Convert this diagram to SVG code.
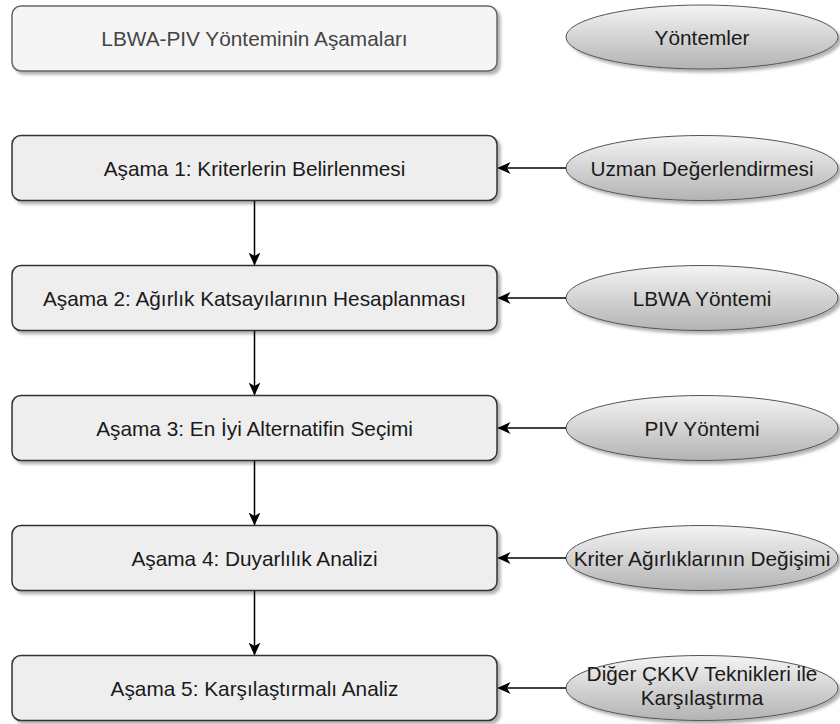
<svg xmlns="http://www.w3.org/2000/svg" width="840" height="724" viewBox="0 0 840 724">
<defs>
<linearGradient id="eg" x1="0" y1="0" x2="0" y2="1">
<stop offset="0" stop-color="#f4f4f4"/>
<stop offset="1" stop-color="#b3b3b3"/>
</linearGradient>
<filter id="sh" x="-10%" y="-20%" width="120%" height="150%">
<feDropShadow dx="3" dy="3" stdDeviation="1.5" flood-color="#000" flood-opacity="0.3"/>
</filter>
<marker id="ah" markerWidth="13" markerHeight="12" viewBox="0 0 13 12" refX="12" refY="6" orient="auto" markerUnits="userSpaceOnUse">
<path d="M0,0 L13,6 L0,12 L3.5,6 Z" fill="#000"/>
</marker>
</defs>
<style>
.box{fill:#eeeeee;stroke:#333;stroke-width:1.5;filter:url(#sh)}
.hbox{fill:#f5f5f5;stroke:#666;stroke-width:1.5;filter:url(#sh)}
.ell{fill:url(#eg);stroke:#555;stroke-width:1;filter:url(#sh)}
text{font-family:"Liberation Sans",Arial,sans-serif;font-size:20.8px;text-anchor:middle;fill:#1a1a1a}
.ht{fill:#444}
.con{stroke:#000;stroke-width:1.5;fill:none;marker-end:url(#ah)}
</style>
<g id="header">
<rect class="hbox" x="12" y="6" width="485" height="65" rx="9"/>
<text class="ht" x="254.5" y="46">LBWA-PIV Yönteminin Aşamaları</text>
</g>
<g id="methods">
<ellipse class="ell" cx="702" cy="37" rx="136" ry="32"/>
<text x="702" y="45">Yöntemler</text>
</g>
<g id="stage1">
<rect class="box" x="12" y="135.5" width="485" height="65" rx="9"/>
<text x="254.5" y="176">Aşama 1: Kriterlerin Belirlenmesi</text>
</g>
<g id="stage2">
<rect class="box" x="12" y="265.5" width="485" height="65" rx="9"/>
<text x="254.5" y="306">Aşama 2: Ağırlık Katsayılarının Hesaplanması</text>
</g>
<g id="stage3">
<rect class="box" x="12" y="395.5" width="485" height="65" rx="9"/>
<text x="254.5" y="436">Aşama 3: En İyi Alternatifin Seçimi</text>
</g>
<g id="stage4">
<rect class="box" x="12" y="525.5" width="485" height="65" rx="9"/>
<text x="254.5" y="566">Aşama 4: Duyarlılık Analizi</text>
</g>
<g id="stage5">
<rect class="box" x="12" y="655.5" width="485" height="65" rx="9"/>
<text x="254.5" y="696">Aşama 5: Karşılaştırmalı Analiz</text>
</g>
<g id="m1">
<ellipse class="ell" cx="702" cy="168" rx="136" ry="32.5"/>
<text x="702" y="176">Uzman Değerlendirmesi</text>
</g>
<g id="m2">
<ellipse class="ell" cx="702" cy="298" rx="136" ry="32.5"/>
<text x="702" y="306">LBWA Yöntemi</text>
</g>
<g id="m3">
<ellipse class="ell" cx="702" cy="428" rx="136" ry="32.5"/>
<text x="702" y="436">PIV Yöntemi</text>
</g>
<g id="m4">
<ellipse class="ell" cx="702" cy="558" rx="136" ry="32.5"/>
<text x="702" y="566">Kriter Ağırlıklarının Değişimi</text>
</g>
<g id="m5">
<ellipse class="ell" cx="702" cy="688" rx="136" ry="32.5"/>
<text x="702" y="681">Diğer ÇKKV Teknikleri ile</text>
<text x="702" y="705">Karşılaştırma</text>
</g>
<g id="connectors">
<path class="con" d="M254.5,201 L254.5,264.5"/>
<path class="con" d="M254.5,331 L254.5,394.5"/>
<path class="con" d="M254.5,461 L254.5,524.5"/>
<path class="con" d="M254.5,591 L254.5,654.5"/>
<path class="con" d="M566,168 L498.5,168"/>
<path class="con" d="M566,298 L498.5,298"/>
<path class="con" d="M566,428 L498.5,428"/>
<path class="con" d="M566,558 L498.5,558"/>
<path class="con" d="M566,688 L498.5,688"/>
</g>
</svg>
